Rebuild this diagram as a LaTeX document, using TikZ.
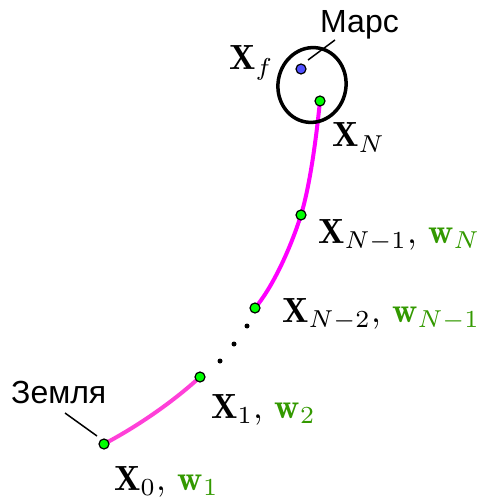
\RequirePackage{fix-cm}
\documentclass[tikz,border=0pt]{standalone}
\usepackage{fontspec}
\newfontfamily\rusfont{Liberation Sans}
\definecolor{wgreen}{HTML}{339900}
\definecolor{dotgreen}{HTML}{00FF00}
\definecolor{dotblue}{HTML}{5050FF}
\definecolor{trajA}{HTML}{FF40D8}
\definecolor{trajB}{HTML}{FF00FF}
\newcommand{\biglbl}[1]{\scalebox{3.5}{#1}}
\begin{document}
\begin{tikzpicture}[x=1pt,y=-1pt,
  gdot/.style={circle,draw=black,line width=1.2pt,fill=dotgreen,minimum size=10pt,inner sep=0pt},
  bdot/.style={circle,draw=black,line width=1.2pt,fill=dotblue,minimum size=10pt,inner sep=0pt},
  edot/.style={circle,fill=black,minimum size=5pt,inner sep=0pt},
  lbl/.style={inner sep=0pt,anchor=base west,font=\fontsize{10}{12}\selectfont},
  rlbl/.style={inner sep=0pt,anchor=base west,font=\fontsize{32}{38}\selectfont\rusfont},
  traj/.style={line width=4pt},
  ptr/.style={line width=1.5pt}]
\useasboundingbox (0,0) rectangle (476,502);
% trajectory points
\coordinate (c0) at (104,444);
\coordinate (c1) at (200,377);
\coordinate (cm2) at (255,308);
\coordinate (cm1) at (301,215);
\coordinate (cN) at (320,101);
\draw[traj,trajA] (c0) .. controls (140,425) and (175,400) .. (c1);
\draw[traj,trajB] (cm2) .. controls (272,288) and (290,250) .. (cm1)
  .. controls (310,185) and (316,140) .. (cN);
% Mars orbit ellipse
\draw[line width=3.5pt,rotate around={-10:(312,85)}] (312,85) ellipse [x radius=34, y radius=37.5];
% points
\node[gdot] (p0) at (c0) {};
\node[gdot] (p1) at (c1) {};
\node[gdot] (pm2) at (cm2) {};
\node[gdot] (pm1) at (cm1) {};
\node[gdot] (pN) at (cN) {};
\node[bdot] (pf) at (301,69) {};
% ellipsis dots
\node[edot] (e1) at (247,326) {};
\node[edot] (e2) at (234,344) {};
\node[edot] (e3) at (220,361) {};
% labels
\node[lbl] (l0) at (114,490) {\biglbl{$\mathbf{X}_0$, \textcolor{wgreen}{$\mathbf{w}_1$}}};
\node[lbl] (l1) at (211,418) {\biglbl{$\mathbf{X}_1$, \textcolor{wgreen}{$\mathbf{w}_2$}}};
\node[lbl] (lm2) at (282,322) {\biglbl{$\mathbf{X}_{N-2}$, \textcolor{wgreen}{$\mathbf{w}_{N-1}$}}};
\node[lbl] (lm1) at (318,243) {\biglbl{$\mathbf{X}_{N-1}$, \textcolor{wgreen}{$\mathbf{w}_{N}$}}};
\node[lbl] (lN) at (332,147) {\biglbl{$\mathbf{X}_N$}};
\node[lbl] (lf) at (229,70) {\biglbl{$\mathbf{X}_f$}};
\node[rlbl] (mars) at (320,33) {Марс};
\node[rlbl] (earth) at (11,403) {Земля};
% pointers
\coordinate (ma) at (335,40);
\coordinate (mb) at (308,60);
\coordinate (ea) at (65,413);
\coordinate (eb) at (97,436);
\draw[ptr] (ma) -- (mb);
\draw[ptr] (ea) -- (eb);
\end{tikzpicture}
\end{document}
